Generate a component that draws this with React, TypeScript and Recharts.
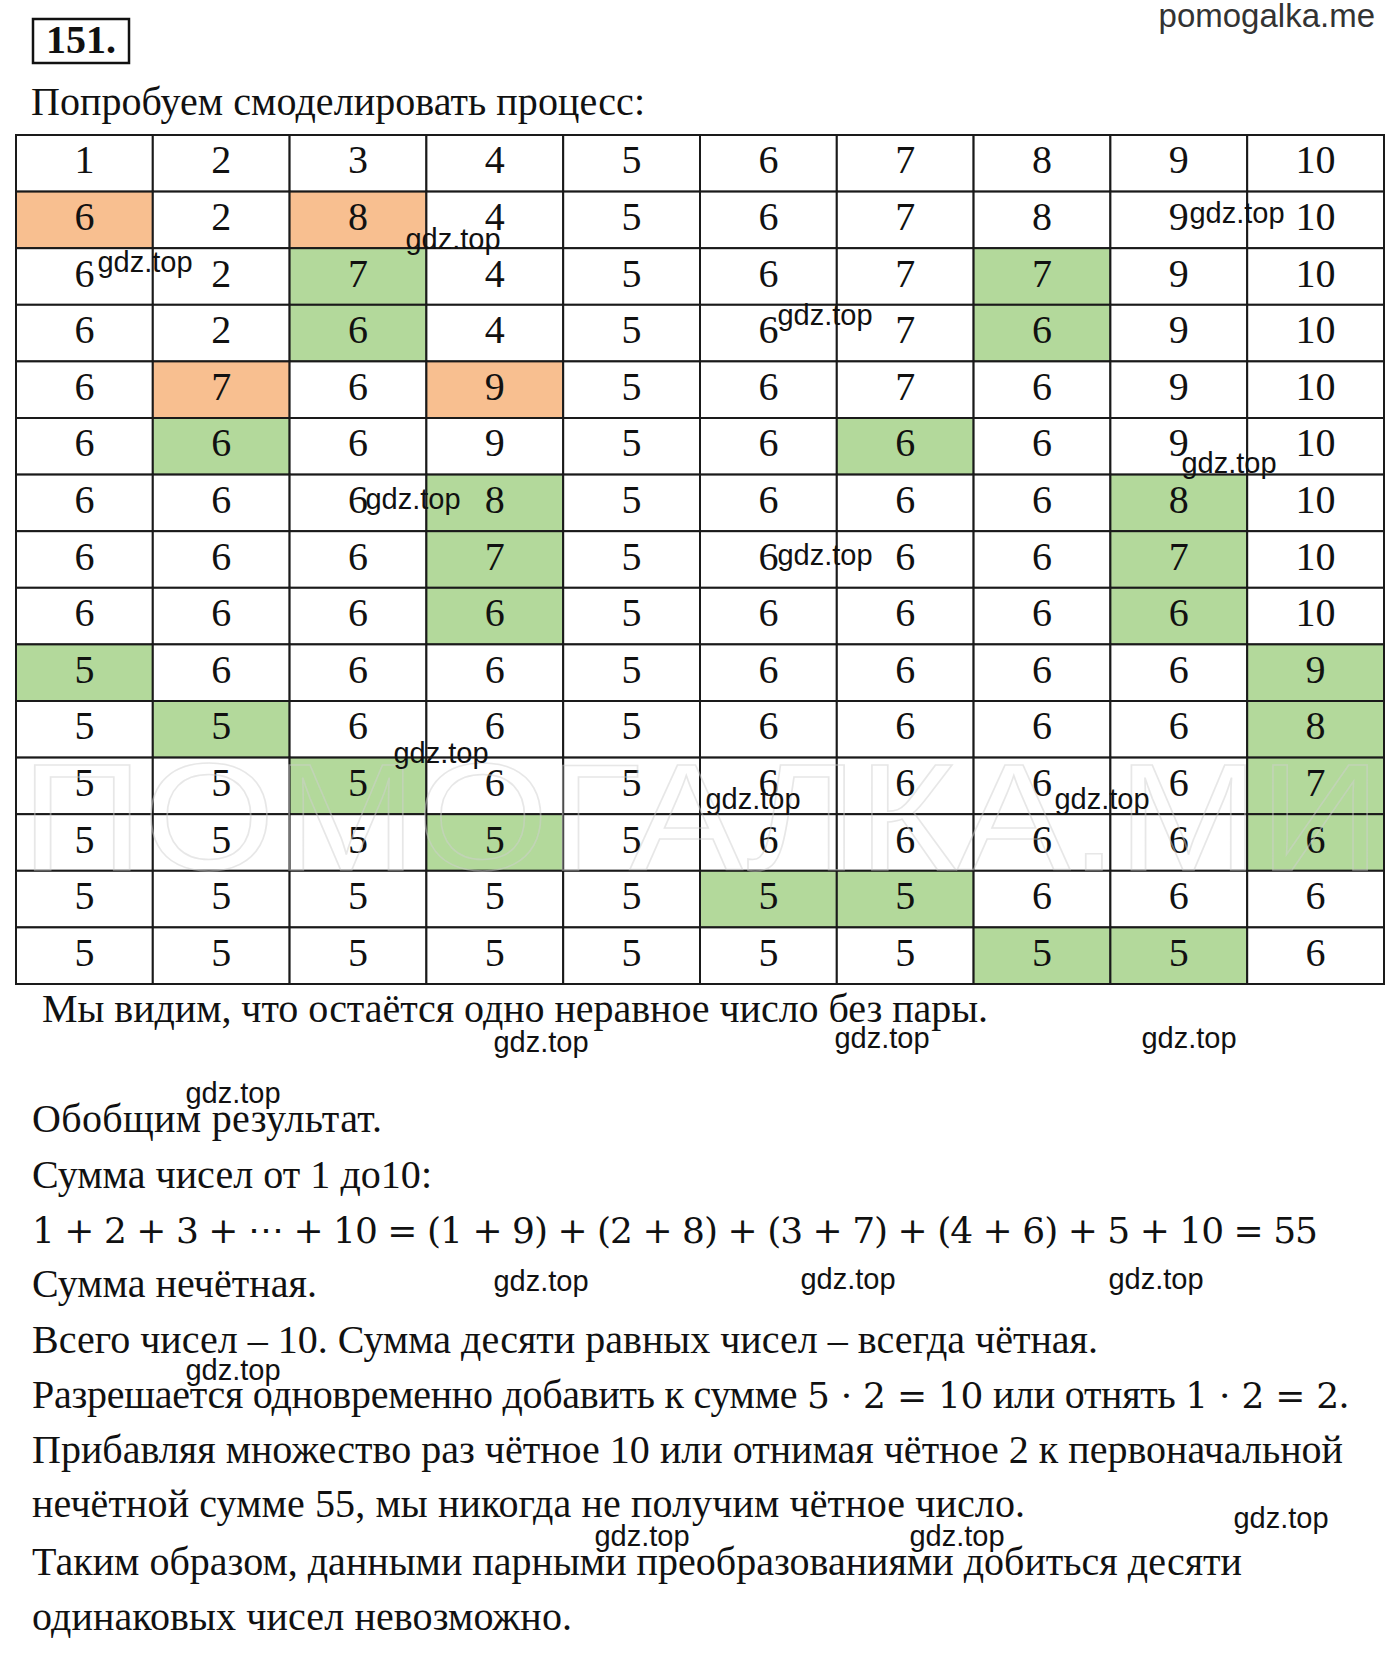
import React from "react";
import { ScatterChart, Scatter, XAxis, YAxis } from "recharts";

// table values, row by row (15 steps of the process, 10 numbers each)
const rowValues: number[][] = [
  [1, 2, 3, 4, 5, 6, 7, 8, 9, 10],
  [6, 2, 8, 4, 5, 6, 7, 8, 9, 10],
  [6, 2, 7, 4, 5, 6, 7, 7, 9, 10],
  [6, 2, 6, 4, 5, 6, 7, 6, 9, 10],
  [6, 7, 6, 9, 5, 6, 7, 6, 9, 10],
  [6, 6, 6, 9, 5, 6, 6, 6, 9, 10],
  [6, 6, 6, 8, 5, 6, 6, 6, 8, 10],
  [6, 6, 6, 7, 5, 6, 6, 6, 7, 10],
  [6, 6, 6, 6, 5, 6, 6, 6, 6, 10],
  [5, 6, 6, 6, 5, 6, 6, 6, 6, 9],
  [5, 5, 6, 6, 5, 6, 6, 6, 6, 8],
  [5, 5, 5, 6, 5, 6, 6, 6, 6, 7],
  [5, 5, 5, 5, 5, 6, 6, 6, 6, 6],
  [5, 5, 5, 5, 5, 5, 5, 6, 6, 6],
  [5, 5, 5, 5, 5, 5, 5, 5, 5, 6],
];

// which two cells changed in each row, and how
const highlightCols: number[][] = [
  [], [0, 2], [2, 7], [2, 7], [1, 3], [1, 6], [3, 8], [3, 8],
  [3, 8], [0, 9], [1, 9], [2, 9], [3, 9], [5, 6], [7, 8],
];
const highlightKind: string[] = [
  "", "orange", "green", "green", "orange", "green", "green", "green",
  "green", "green", "green", "green", "green", "green", "green",
];

const bodyLines = [
  { text: "Попробуем смоделировать процесс:", x: 31, y: 115, w: 614 },
  { text: "Мы видим, что остаётся одно неравное число без пары.", x: 42, y: 1022, w: 946 },
  { text: "Обобщим результат.", x: 32, y: 1132, w: 350 },
  { text: "Сумма чисел от 1 до10:", x: 32, y: 1188, w: 400 },
  { text: "Сумма нечётная.", x: 32, y: 1297, w: 285 },
  { text: "Всего чисел – 10. Сумма десяти равных чисел – всегда чётная.", x: 32, y: 1353, w: 1066 },
  { text: "Прибавляя множество раз чётное 10 или отнимая чётное 2 к первоначальной", x: 32, y: 1463, w: 1311 },
  { text: "нечётной сумме 55, мы никогда не получим чётное число.", x: 32, y: 1517, w: 993 },
  { text: "Таким образом, данными парными преобразованиями добиться десяти", x: 32, y: 1575, w: 1210 },
  { text: "одинаковых чисел невозможно.", x: 32, y: 1630, w: 540 },
];

const stamps: number[][] = [
  [453, 241], [145, 264], [1237, 215], [825, 317], [1229, 465], [413, 501],
  [825, 557], [441, 755], [753, 801], [1102, 801], [541, 1044], [882, 1040],
  [1189, 1040], [233, 1095], [541, 1283], [848, 1281], [1156, 1281],
  [233, 1372], [1281, 1520], [642, 1538], [957, 1538],
];

const ORANGE = "#f8bf90";
const GREEN = "#b3d99b";
const SERIF = "'Liberation Serif', 'Times New Roman', serif";
const SANS = "'Liberation Sans', Arial, sans-serif";
const MATH = "'DejaVu Serif', serif";

const TABLE_W = 1368;
const TABLE_H = 849;
const CELL_W = TABLE_W / 10;
const CELL_H = TABLE_H / 15;

const cells = rowValues.flatMap((row, r) =>
  row.map((v, c) => ({
    x: c + 0.5,
    y: r + 0.5,
    value: v,
    kind: highlightCols[r].includes(c) ? highlightKind[r] : "",
  }))
);

const Cell = (props: any) => {
  const { cx, cy, payload } = props;
  const fill = payload.kind === "orange" ? ORANGE : payload.kind === "green" ? GREEN : "#fff";
  return (
    <g>
      <rect
        x={cx - CELL_W / 2}
        y={cy - CELL_H / 2}
        width={CELL_W}
        height={CELL_H}
        fill={fill}
        stroke="#1a1a1a"
        strokeWidth={2}
      />
      <text x={cx} y={cy + 10} textAnchor="middle" fontFamily={SERIF} fontSize={40} fill="#111">
        {payload.value}
      </text>
    </g>
  );
};

export default function App() {
  return (
    <div style={{ position: "absolute", left: 0, top: 0, width: 1400, height: 1653, background: "#fff" }}>
      <div style={{ position: "absolute", left: 14, top: 133 }}>
        <ScatterChart width={TABLE_W + 4} height={TABLE_H + 4} margin={{ top: 2, right: 2, bottom: 2, left: 2 }}>
          <XAxis type="number" dataKey="x" domain={[0, 10]} hide />
          <YAxis type="number" dataKey="y" domain={[0, 15]} reversed hide width={0} />
          <Scatter data={cells} shape={<Cell />} isAnimationActive={false} />
        </ScatterChart>
      </div>
      <svg
        width={1400}
        height={1653}
        style={{ position: "absolute", left: 0, top: 0, pointerEvents: "none" }}
      >
        <rect x={33} y={19} width={96} height={44} fill="none" stroke="#111" strokeWidth={2.5} />
        <text x={81} y={53} textAnchor="middle" fontFamily={SERIF} fontWeight="bold" fontSize={40} fill="#111">
          151.
        </text>
        <text x={1375} y={27} textAnchor="end" fontFamily={SANS} fontSize={33} fill="#333">
          pomogalka.me
        </text>

        <text
          x={21}
          y={870}
          fontFamily={SANS}
          fontSize={152}
          fill="none"
          stroke="#d0d0d0"
          strokeOpacity={0.5}
          strokeWidth={1.5}
          textLength={1360}
          lengthAdjust="spacingAndGlyphs"
        >
          ПОМОГАЛКА.МИ
        </text>

        {bodyLines.map((l, i) => (
          <text
            key={i}
            x={l.x}
            y={l.y}
            fontFamily={SERIF}
            fontSize={40}
            fill="#111"
            textLength={l.w}
            lengthAdjust="spacing"
          >
            {l.text}
          </text>
        ))}
        <text x={32} y={1243} fontFamily={MATH} fontSize={36} fill="#111" textLength={1286} lengthAdjust="spacing">
          1 + 2 + 3 + ⋯ + 10 = (1 + 9) + (2 + 8) + (3 + 7) + (4 + 6) + 5 + 10 = 55
        </text>
        <text x={32} y={1408} fontFamily={SERIF} fontSize={40} fill="#111" textLength={1317} lengthAdjust="spacing">
          Разрешается одновременно добавить к сумме{" "}
          <tspan fontFamily={MATH} fontSize={36}>5 · 2 = 10</tspan> или отнять{" "}
          <tspan fontFamily={MATH} fontSize={36}>1 · 2 = 2</tspan>.
        </text>

        {stamps.map(([x, y], i) => (
          <text key={i} x={x} y={y + 8} textAnchor="middle" fontFamily={SANS} fontSize={29} fill="#111">
            gdz.top
          </text>
        ))}
      </svg>
    </div>
  );
}
